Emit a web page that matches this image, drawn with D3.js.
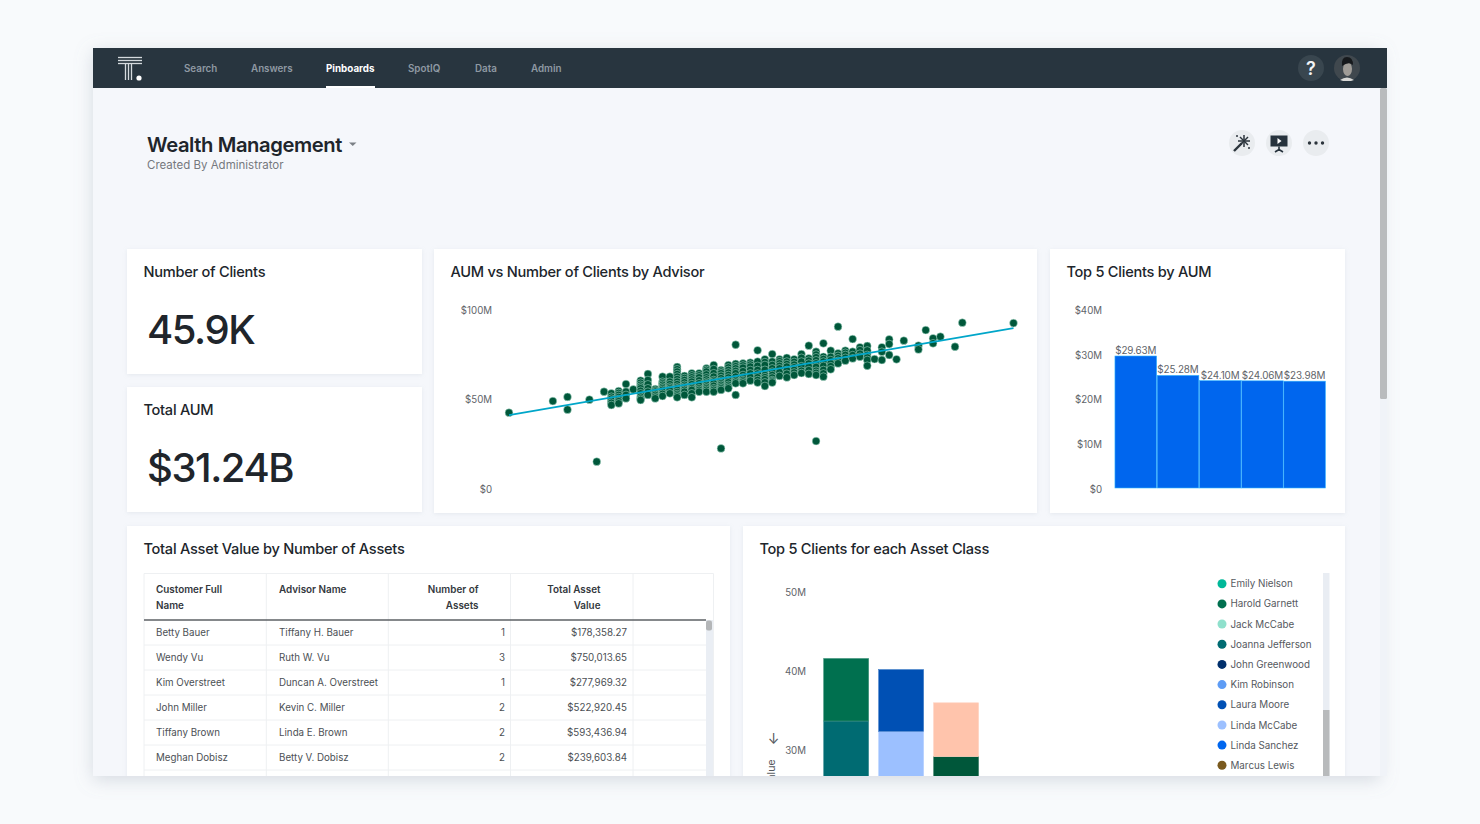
<!DOCTYPE html>
<html>
<head>
<meta charset="utf-8">
<script src="https://cdn.jsdelivr.net/npm/d3@7"></script>
<style>
    html, body { margin: 0; padding: 0; background: #f8fafc; overflow: hidden; }
    text { font-family: Inter, "Noto Sans", sans-serif; }
    .tick text { fill: #5f6469; font-size: 9.7px; }
</style>
</head>
<body>
<div id="page"></div>
<script>
// ---- data ----
var navItems = ["Search", "Answers", "Pinboards", "SpotIQ", "Data", "Admin"];
var kpiTitles = ["Number of Clients", "Total AUM"];
var kpiValues = ["45.9K", "$31.24B"];

// AUM vs clients: one entry of clients per column of dots, AUM ($M) of each dot in that column
var advisorClients = [100, 106, 108, 111, 112, 113, 114, 115, 116, 117, 118, 119, 120, 121, 122, 123, 124, 125, 126, 127,
    128, 129, 130, 131, 132, 133, 134, 135, 136, 137, 138, 139, 140, 141, 142, 143, 144, 145, 146, 147,
    148, 149, 150, 151, 152, 153, 154, 156, 157, 158, 159, 161, 162, 169];
var advisorAum = [
    [43.1], [49.6], [51.9, 44.8], [50.4], [15.8], [54.8],
    [53.9, 52, 50.9, 49.8, 48.6, 47.4], [55.2, 54.1, 53, 51.8, 50.7, 49.5, 48.3], [59.1, 54.8, 53, 51.1], [56.1],
    [61, 59.8, 58.6, 57.6, 56.7, 55.3, 53.9, 52, 51, 50.2], [64.7, 61.3, 58.9, 56.7, 54.8, 53], [56.3, 55.5, 54.8, 53.9, 53, 52, 51.1],
    [63.2, 60.4, 59.5, 58.6, 57.6, 56.7, 55.8, 54.8, 53.6, 52.4], [63.2, 60.4, 59, 57.6, 56.7, 55.8, 53.9],
    [68.6, 67.3, 66, 64.6, 63.2, 61.8, 60.4, 59, 57.6, 56.7, 55.8, 54.6, 53.5, 52.6, 51.7], [63.6, 62.4, 61.3, 60, 58.6, 57.6, 56.7, 55.8, 54.8, 53],
    [65.1, 63.9, 62.8, 61.6, 60.4, 59, 57.6, 56.7, 55.8, 53.9, 51.7], [65.1, 63.9, 62.8, 61.1, 59.5, 58.1, 56.7, 55.8, 54.8],
    [67.8, 66.9, 66, 64.4, 62.8, 61.6, 60.4, 59.5, 58.6, 57.6, 56.7, 55.8, 54.8], [69.7, 67.4, 65.1, 63.2, 61.3, 60.4, 59.5, 58.1, 56.7, 55.8, 54.8],
    [66.9, 66, 65.1, 63.7, 62.3, 60.9, 59.5, 58.6, 57.6, 56.7, 55.8, 23.2], [69.7, 68.3, 66.9, 65.5, 64.1, 62.7, 61.3, 60, 58.6, 57.6, 56.7],
    [81, 70.3, 69, 67.8, 66.4, 65.1, 63.2, 61.3, 60.4, 59.5, 53], [70.6, 69.4, 68.2, 66.2, 64.1, 62.7, 61.3, 60.4, 59.5], [71, 69.9, 68.8, 66.9, 65, 63, 61],
    [77.9, 71.6, 69.2, 66.9, 64.9, 62.8, 61.3, 59.9], [72.9, 71.3, 69.7, 67, 64.1, 62.9, 61.7, 60, 58], [75.8, 71.6, 69.7, 67.8, 66, 64.1, 62.7, 61.3, 60.6, 59.9],
    [72.9, 71.8, 70.6, 69.2, 67.8, 65.7, 63.6], [73.7, 71.6, 70.2, 68.8, 66.9, 64.8, 62.8], [72.9, 71.4, 69.9, 68.4, 66.9, 65.5, 64.1], [75.8, 73.7, 71.6, 69, 66.5, 65.2],
    [80.5, 73.4, 72.1, 70.5, 68.8, 66.8, 64.7], [77.1, 75.5, 74, 72.3, 70.6, 68.6, 66.5, 65.3, 64.1, 27.3], [81.8, 74.3, 73, 71.6, 69.2, 66.9, 65, 63.2],
    [77.7, 74.2, 72.4, 70.6, 69, 67.3], [91.1, 76.2, 74.8, 73.4, 72, 70.6], [77.7, 76.5, 75.3, 73.7, 72.1], [84.2, 77.1, 75.2, 73.4], [79.6, 78, 76, 74.3],
    [80.3, 77.8, 75.3, 73.9, 72.5, 69.3], [73], [79.6, 77.1, 72.5], [84, 81.4, 75.3], [72.9], [83.3], [80.5, 78.4],
    [89.2], [84.6, 81.8], [85.5], [79.9], [93.3], [93.1]
];
var trendClients = [100, 169];
var trendAum = [41.8, 90.3];
var aumTicks = [0, 50, 100];

var topClientRanks = [1, 2, 3, 4, 5];
var topClientAum = [29.63, 25.28, 24.10, 24.06, 23.98];
var topClientTicks = [0, 10, 20, 30, 40];

var tableHeaders = [["Customer Full", "Name"], ["Advisor Name"], ["Number of", "Assets"], ["Total Asset", "Value"]];
var customerNames = ["Betty Bauer", "Wendy Vu", "Kim Overstreet", "John Miller", "Tiffany Brown", "Meghan Dobisz"];
var advisorNames = ["Tiffany H. Bauer", "Ruth W. Vu", "Duncan A. Overstreet", "Kevin C. Miller", "Linda E. Brown", "Betty V. Dobisz"];
var assetCounts = [1, 3, 1, 2, 2, 2];
var assetValues = [178358.27, 750013.65, 277969.32, 522920.45, 593436.94, 239603.84];

var legendNames = ["Emily Nielson", "Harold Garnett", "Jack McCabe", "Joanna Jefferson", "John Greenwood",
    "Kim Robinson", "Laura Moore", "Linda McCabe", "Linda Sanchez", "Marcus Lewis"];
var legendColors = ["#00b899", "#00704f", "#8fe0cc", "#006b72", "#002f6c", "#5e9cf5", "#0050b4", "#9cc0ff", "#0066ee", "#7a5a1e"];

// the bars run off the bottom of the window, asset class labels and two client names cannot be seen
var assetClasses = ["Class 1", "Class 2", "Class 3"];
var stackClients = ["Joanna Jefferson", "Linda McCabe", "Unseen client A", "Harold Garnett", "Laura Moore", "Unseen client B"];
var stackColors = ["#006b72", "#9cc0ff", "#00573a", "#00704f", "#0050b4", "#ffc4ac"];
var stackValues = [
    [33.7, 0, 0, 7.9, 0, 0],
    [0, 32.4, 0, 0, 7.8, 0],
    [0, 0, 29.2, 0, 0, 6.8]
];
var stackTicks = [30, 40, 50];

var textDark = "#20252b", textMid = "#55595e";

var svg = d3.select("#page").append("svg").attr("width", 1480).attr("height", 824).style("display", "block");
var defs = svg.append("defs");

var winShadow = defs.append("filter").attr("id", "winShadow")
    .attr("x", "-5%").attr("y", "-5%").attr("width", "110%").attr("height", "112%");
winShadow.append("feDropShadow").attr("dx", 0).attr("dy", 4).attr("stdDeviation", 9)
    .attr("flood-color", "#8a97a8").attr("flood-opacity", 0.32);
var cardShadow = defs.append("filter").attr("id", "cardShadow")
    .attr("x", "-5%").attr("y", "-5%").attr("width", "110%").attr("height", "112%");
cardShadow.append("feDropShadow").attr("dx", 0).attr("dy", 1).attr("stdDeviation", 2)
    .attr("flood-color", "#a8b2bf").attr("flood-opacity", 0.22);
defs.append("clipPath").attr("id", "winClip").append("rect")
    .attr("x", 93).attr("y", 48).attr("width", 1294).attr("height", 728);

svg.append("rect").attr("x", 93).attr("y", 48).attr("width", 1287).attr("height", 728)
    .attr("fill", "#f5f7fb").attr("filter", "url(#winShadow)");

var app = svg.append("g").attr("clip-path", "url(#winClip)");

drawNav();
drawHeader();
drawCards();
drawScatter();
drawTopClients();
drawTable();
drawStacked();
drawLegend();
drawPageScrollbar();

function drawNav() {
    var navX = [184, 251, 326, 408, 475, 531];
    app.append("rect").attr("x", 93).attr("y", 48).attr("width", 1294).attr("height", 40).attr("fill", "#28353f");

    app.selectAll(".nav").data(navItems).join("text")
        .attr("class", "nav")
        .attr("x", (d, i) => navX[i])
        .attr("y", 71.5)
        .attr("font-size", 9.8)
        .attr("font-weight", d => d == "Pinboards" ? 700 : 600)
        .attr("fill", d => d == "Pinboards" ? "#ffffff" : "#8f99a3")
        .text(d => d);
    app.append("rect").attr("x", 326).attr("y", 86).attr("width", 49).attr("height", 2).attr("fill", "#fff");

    // logo
    var logo = app.append("g").attr("stroke", "#d5dade").attr("stroke-width", 1.3);
    [57.5, 60.5, 63.5].forEach(function (y) {
        logo.append("line").attr("x1", 118).attr("x2", 142).attr("y1", y).attr("y2", y);
    });
    [125.5, 128.5, 131.5].forEach(function (x) {
        logo.append("line").attr("x1", x).attr("x2", x).attr("y1", 63.5).attr("y2", 80);
    });
    app.append("circle").attr("cx", 139).attr("cy", 78).attr("r", 2.6).attr("fill", "#fff");

    // help + avatar
    app.append("circle").attr("cx", 1311).attr("cy", 68).attr("r", 13).attr("fill", "#39464f");
    app.append("text").attr("x", 1311).attr("y", 74.5).attr("text-anchor", "middle")
        .attr("font-size", 18).attr("font-weight", 600).attr("fill", "#f2f4f6").text("?");
    app.append("circle").attr("cx", 1347).attr("cy", 68).attr("r", 13).attr("fill", "#40484e");
    app.append("ellipse").attr("cx", 1347.5).attr("cy", 69).attr("rx", 4.5).attr("ry", 7).attr("fill", "#a09c97");
    app.append("path").attr("d", "M1342 66 Q1341 57 1347 57 Q1353 57 1353 65 Q1349 61 1342 66Z").attr("fill", "#16191c");
    app.append("path").attr("d", "M1340 80 Q1347 75 1354 80 L1351 81 L1343 81Z").attr("fill", "#d8d8d6");
}

function drawHeader() {
    app.append("text").attr("x", 147).attr("y", 152).attr("font-size", 20.2).attr("font-weight", 600)
        .attr("letter-spacing", -0.4).attr("fill", textDark).text("Wealth Management");
    app.append("path").attr("d", "M349 142.5 L356.5 142.5 L352.75 146Z").attr("fill", "#7b8086");
    app.append("text").attr("x", 147).attr("y", 169).attr("font-size", 11.5).attr("fill", "#75797e").text("Created By Administrator");

    app.selectAll(".action").data([1242, 1279, 1316]).join("circle")
        .attr("class", "action").attr("cx", d => d).attr("cy", 143).attr("r", 13).attr("fill", "#e9ecef");

    // wand
    app.append("line").attr("x1", 1234).attr("y1", 151).attr("x2", 1242).attr("y2", 143)
        .attr("stroke", "#2b343c").attr("stroke-width", 2.4);
    var star = app.append("g").attr("stroke", "#2b343c").attr("stroke-width", 1.5);
    [[1244, 135, 1244, 147], [1238, 141, 1250, 141], [1240, 137, 1248, 145], [1248, 137, 1240, 145]].forEach(function (l) {
        star.append("line").attr("x1", l[0]).attr("y1", l[1]).attr("x2", l[2]).attr("y2", l[3]);
    });
    app.append("circle").attr("cx", 1237).attr("cy", 136).attr("r", 1).attr("fill", "#2b343c");
    app.append("circle").attr("cx", 1249).attr("cy", 148).attr("r", 1).attr("fill", "#2b343c");

    // present
    app.append("rect").attr("x", 1270.5).attr("y", 135.5).attr("width", 17).attr("height", 11).attr("fill", "#26323c");
    app.append("path").attr("d", "M1277.5 138 L1281.5 141 L1277.5 144Z").attr("fill", "#fff");
    app.append("path").attr("d", "M1279 146.5 V151 M1275 152 L1279 149.5 L1283 152")
        .attr("stroke", "#26323c").attr("stroke-width", 1.6).attr("fill", "none");

    // more
    app.selectAll(".dot3").data([1309.5, 1316, 1322.5]).join("circle")
        .attr("class", "dot3").attr("cx", d => d).attr("cy", 143).attr("r", 1.7).attr("fill", "#2b343c");
}

function card(x, y, w, h, title) {
    app.append("rect").attr("x", x).attr("y", y).attr("width", w).attr("height", h)
        .attr("fill", "#fff").attr("filter", "url(#cardShadow)");
    app.append("text").attr("x", x + 16.4).attr("y", y + 28.2).attr("font-size", 14.6).attr("font-weight", 500)
        .attr("letter-spacing", -0.26).attr("fill", textDark).text(title);
}

function drawCards() {
    card(127, 249, 295, 125, kpiTitles[0]);
    card(127, 387, 295, 125, kpiTitles[1]);
    card(434, 249, 603, 264, "AUM vs Number of Clients by Advisor");
    card(1050, 249, 295, 264, "Top 5 Clients by AUM");
    card(127, 526, 603, 300, "Total Asset Value by Number of Assets");
    card(743, 526, 602, 300, "Top 5 Clients for each Asset Class");

    app.selectAll(".kpi").data(kpiValues).join("text")
        .attr("class", "kpi")
        .attr("x", 147)
        .attr("y", (d, i) => 344 + i * 137.5)
        .attr("font-size", 40)
        .attr("font-weight", 500)
        .attr("letter-spacing", -1.45)
        .attr("fill", textDark)
        .text(d => d);
}

function yAxis(group, scale, ticks, fmt, x, dy) {
    var g = group.append("g").attr("transform", "translate(" + x + ",0)")
        .call(d3.axisLeft(scale).tickValues(ticks).tickSize(0).tickPadding(0).tickFormat(fmt));
    g.select(".domain").remove();
    g.selectAll("text").attr("dy", dy);
    return g;
}

function dollarTick(d) {
    return d == 0 ? "$0" : "$" + d + "M";
}

function drawScatter() {
    var xScale = d3.scaleLinear().domain([100, 169]).range([509, 1013.5]);
    var yScale = d3.scaleLinear().domain([0, 100]).range([490, 310.7]);

    var points = [];
    advisorClients.forEach(function (c, i) {
        advisorAum[i].forEach(function (a) { points.push({ clients: c, aum: a }); });
    });

    yAxis(app, yScale, aumTicks, dollarTick, 492, "0.25em");

    app.append("g").selectAll("circle").data(points).join("circle")
        .attr("cx", d => xScale(d.clients))
        .attr("cy", d => yScale(d.aum))
        .attr("r", 3.9)
        .attr("fill", "#00573a")
        .attr("stroke", "#b5e3d3")
        .attr("stroke-width", 0.5);

    var line = d3.line().x(d => xScale(d[0])).y(d => yScale(d[1]));
    app.append("path").datum(d3.zip(trendClients, trendAum))
        .attr("d", line).attr("fill", "none").attr("stroke", "#00a6c9").attr("stroke-width", 1.7);
}

function drawTopClients() {
    var xScale = d3.scaleBand().domain(topClientRanks).range([1114.7, 1325.7]);
    var yScale = d3.scaleLinear().domain([0, 40]).range([488, 309.8]);

    yAxis(app, yScale, topClientTicks, dollarTick, 1102, "0.42em");

    app.append("g").selectAll("rect").data(topClientAum).join("rect")
        .attr("x", (d, i) => xScale(topClientRanks[i]) + 0.25)
        .attr("y", d => yScale(d))
        .attr("width", xScale.bandwidth() - 0.5)
        .attr("height", d => yScale(0) - yScale(d))
        .attr("fill", "#0066ee")
        .attr("stroke", "#38b8ff")
        .attr("stroke-width", 0.6);

    app.append("g").selectAll("text").data(topClientAum).join("text")
        .attr("x", (d, i) => xScale(topClientRanks[i]) + xScale.bandwidth() / 2)
        .attr("y", d => yScale(d) - 2)
        .attr("text-anchor", "middle")
        .attr("font-size", 9.9)
        .attr("letter-spacing", -0.1)
        .attr("fill", "#5f6469")
        .text(d => d3.format("$.2f")(d) + "M");
}

function drawTable() {
    var colLines = [144, 266.3, 388.3, 510.5, 633, 713.5];
    var top = 573.5, headBottom = 620, rowH = 25;
    var rowScale = d3.scaleLinear().domain([0, 1]).range([headBottom, headBottom + rowH]);
    var g = app.append("g");

    g.selectAll(".vline").data(colLines).join("line")
        .attr("class", "vline")
        .attr("x1", d => d).attr("x2", d => d).attr("y1", top).attr("y2", 780)
        .attr("stroke", "#eef0f2");
    g.append("line").attr("x1", 144).attr("x2", 713.5).attr("y1", top).attr("y2", top).attr("stroke", "#eef0f2");
    g.selectAll(".hline").data(d3.range(1, 7)).join("line")
        .attr("class", "hline")
        .attr("x1", 144).attr("x2", 706).attr("y1", d => rowScale(d)).attr("y2", d => rowScale(d))
        .attr("stroke", "#eef0f2");
    g.append("line").attr("x1", 144).attr("x2", 706).attr("y1", 620).attr("y2", 620).attr("stroke", "#5c6064").attr("stroke-width", 1.6);

    // header cells
    var headX = [156, 279, 478.5, 600.5];
    var headAnchor = ["start", "start", "end", "end"];
    tableHeaders.forEach(function (lines, c) {
        g.selectAll(".h" + c).data(lines).join("text")
            .attr("class", "h" + c)
            .attr("x", headX[c])
            .attr("y", (d, i) => 592.5 + i * 16)
            .attr("text-anchor", headAnchor[c])
            .attr("font-size", 9.9)
            .attr("font-weight", 600)
            .attr("fill", "#33383d")
            .text(d => d);
    });

    // body cells
    var columns = [
        { values: customerNames, x: 156, anchor: "start", fmt: d => d },
        { values: advisorNames, x: 279, anchor: "start", fmt: d => d },
        { values: assetCounts, x: 505, anchor: "end", fmt: d => d },
        { values: assetValues, x: 627, anchor: "end", fmt: d3.format("$,.2f") }
    ];
    columns.forEach(function (col, c) {
        g.selectAll(".c" + c).data(col.values).join("text")
            .attr("class", "c" + c)
            .attr("x", col.x)
            .attr("y", (d, i) => rowScale(i) + 16.3)
            .attr("text-anchor", col.anchor)
            .attr("font-size", 9.75)
            .attr("fill", "#4b4f54")
            .text(col.fmt);
    });

    // table scrollbar
    g.append("rect").attr("x", 706).attr("y", 620).attr("width", 7).attr("height", 160).attr("fill", "#eaeef4");
    g.append("rect").attr("x", 706).attr("y", 620.5).attr("width", 6).attr("height", 10).attr("rx", 2).attr("fill", "#b4b6b8");
}

function drawStacked() {
    var xScale = d3.scaleBand().domain(assetClasses).range([823.7, 978.6]).paddingInner(10 / 55);
    var yScale = d3.scaleLinear().domain([0, 50]).range([987.75, 592]);
    var color = d3.scaleOrdinal().domain(stackClients).range(stackColors);

    var rows = assetClasses.map(function (name, i) {
        var row = { assetClass: name };
        stackClients.forEach(function (client, k) { row[client] = stackValues[i][k]; });
        return row;
    });
    var series = d3.stack().keys(stackClients)(rows);

    yAxis(app, yScale, stackTicks, d => d + "M", 806, "0.35em");

    var group = app.append("g").selectAll("g").data(series).join("g")
        .attr("fill", d => color(d.key))
        .attr("stroke", d => d3.interpolateRgb(color(d.key), "#ffffff")(0.25));
    group.selectAll("rect").data(d => d.filter(v => v[1] > v[0])).join("rect")
        .attr("x", d => xScale(d.data.assetClass))
        .attr("y", d => yScale(d[1]))
        .attr("width", xScale.bandwidth())
        .attr("height", d => yScale(d[0]) - yScale(d[1]))
        .attr("stroke-width", 0.6);

    app.append("text").attr("x", 773.5).attr("y", 744).attr("text-anchor", "middle")
        .attr("font-size", 14).attr("fill", "#55595e").text("↓");
    // axis title, mostly cut by the window edge
    app.append("text").attr("transform", "translate(774.5,759.5) rotate(-90)")
        .attr("text-anchor", "end").attr("font-size", 10.5).attr("fill", "#55595e").text("Total Asset Value");
}

function drawLegend() {
    var color = d3.scaleOrdinal().domain(legendNames).range(legendColors);
    var yScale = d3.scalePoint().domain(legendNames).range([583.7, 765.3]);
    var g = app.append("g");
    g.selectAll("circle").data(legendNames).join("circle")
        .attr("cx", 1222).attr("cy", d => yScale(d)).attr("r", 4.5).attr("fill", d => color(d));
    g.selectAll("text").data(legendNames).join("text")
        .attr("x", 1230.5).attr("y", d => yScale(d) + 3.6)
        .attr("font-size", 9.8).attr("fill", textMid).text(d => d);

    g.append("rect").attr("x", 1323).attr("y", 573).attr("width", 6.5).attr("height", 205).attr("fill", "#e9edf3");
    g.append("rect").attr("x", 1323).attr("y", 710).attr("width", 6.5).attr("height", 68).attr("fill", "#b8babc");
}

function drawPageScrollbar() {
    app.append("rect").attr("x", 1380).attr("y", 88).attr("width", 7).attr("height", 690).attr("fill", "#f0f3f8");
    app.append("rect").attr("x", 1380).attr("y", 88).attr("width", 7).attr("height", 311).attr("rx", 1.5).attr("fill", "#b9bbbd");
}
</script>
</body>
</html>
